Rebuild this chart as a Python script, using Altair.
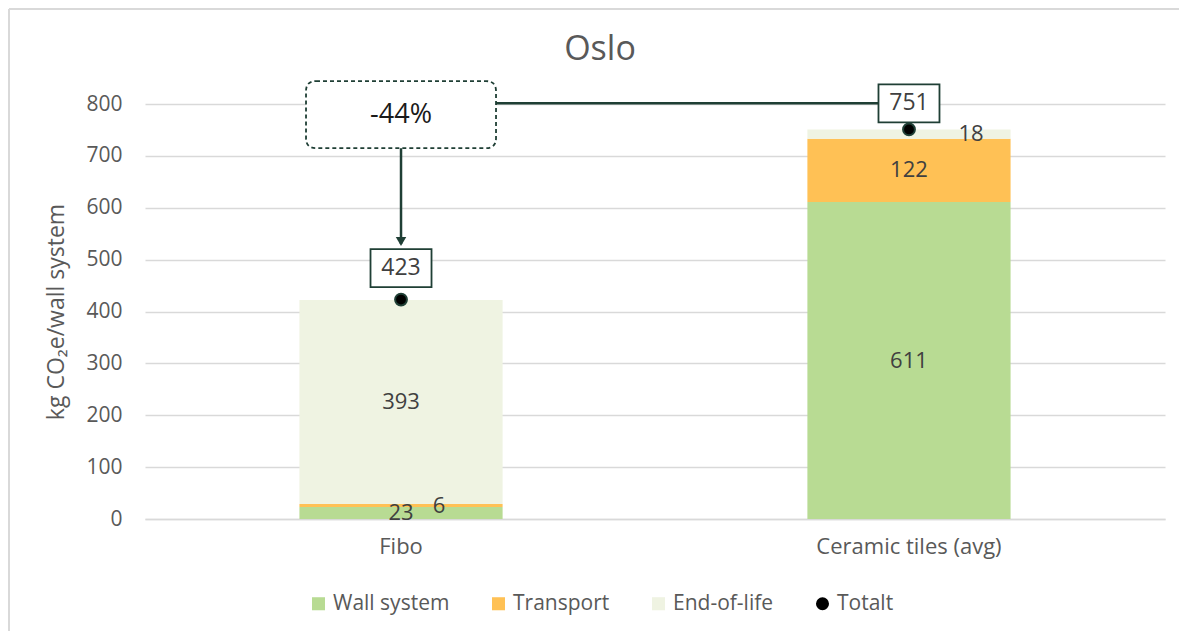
import altair as alt
import pandas as pd

FONT = "Open Sans"
GRAY = "#595959"
DARK = "#1F3F35"

categories = ["Fibo", "Ceramic tiles (avg)"]
components = ["Wall system", "Transport", "End-of-life"]
wall_system = [23, 611]
transport = [6, 122]
end_of_life = [393, 18]
totals = [423, 751]
change_label = "-44%"
legend_items = components + ["Totalt"]
colors = ["#B8DB93", "#FFC155", "#EFF3E2", "#000000"]
shapes = ["square", "square", "square", "circle"]

# annotation levels (data units)
connector_level = 801.5
change_box_level = 779.5
arrow_end_level = 530
arrow_head_level = 535

rows = []
for ci, cat in enumerate(categories):
    for k, (comp, vals) in enumerate(zip(components, [wall_system, transport, end_of_life])):
        rows.append({"category": cat, "series": comp, "value": vals[ci], "order": k})
bars_df = pd.DataFrame(rows)
tot_df = pd.DataFrame({"category": categories, "series": ["Totalt"] * 2,
                       "total": totals, "label": [str(t) for t in totals]})
line_df = pd.DataFrame({"category": categories, "level": [connector_level] * 2})
change_df = pd.DataFrame({"category": [categories[0]], "level": [change_box_level],
                          "label": [change_label]})
arrow_df = pd.DataFrame({"category": [categories[0]], "y1": [change_box_level],
                         "y2": [arrow_end_level], "head": [arrow_head_level]})
frame_df = pd.DataFrame({"a": [0]})

YTITLE = "kg CO\u2082e/wall system"
xscale = alt.Scale(domain=categories, paddingInner=0.6, paddingOuter=0.304)
yscale = alt.Scale(domain=[0, 800], nice=False)
xaxis = alt.Axis(title=None, labelFontSize=22, labelColor=GRAY, labelFont=FONT,
                 labelPadding=17, ticks=False, domainColor="#D9D9D9", domainWidth=1.5,
                 labelAngle=0, labelLimit=500)
yaxis = alt.Axis(title=YTITLE, values=list(range(0, 801, 100)), labelFontSize=21,
                 labelColor=GRAY, labelFont=FONT, labelPadding=23, ticks=False,
                 domain=False, gridColor="#D9D9D9", gridWidth=1.3, titleFontSize=23,
                 titleColor=GRAY, titleFont=FONT, titleFontWeight="normal",
                 titlePadding=17)
cscale = alt.Scale(domain=legend_items, range=colors)
sscale = alt.Scale(domain=legend_items, range=shapes)


def X():
    return alt.X("category:N", scale=xscale, axis=xaxis, sort=categories)


def Y(field, **kw):
    return alt.Y(field, type="quantitative", scale=yscale, axis=yaxis, **kw)


frame_top = alt.Chart(frame_df).mark_rule(color="#D9D9D9", strokeWidth=2).encode(
    x=alt.value(-136), x2=alt.value(1034), y=alt.value(-95))
frame_left = alt.Chart(frame_df).mark_rule(color="#D9D9D9", strokeWidth=2).encode(
    x=alt.value(-136), y=alt.value(-95), y2=alt.value(527))

bars = alt.Chart(bars_df).mark_bar().encode(
    x=X(),
    y=Y("value", stack="zero"),
    color=alt.Color("series:N", scale=cscale, legend=alt.Legend(title=None)),
    order=alt.Order("order:Q", sort="ascending"),
)

text_base = alt.Chart(bars_df).transform_stack(
    stack="value", as_=["v0", "v1"], groupby=["category"],
    sort=[alt.SortField("order", order="ascending")]
).transform_calculate(mid="(datum.v0 + datum.v1) / 2")

txt_props = dict(font=FONT, fontSize=22, color="#404040", baseline="middle", align="center")
seg_main = text_base.transform_filter(
    "!(datum.category == 'Fibo' && datum.series == 'Transport') && "
    "!(datum.category == 'Ceramic tiles (avg)' && datum.series == 'End-of-life')"
).mark_text(**txt_props).encode(x=X(), y=Y("mid"), text="value:Q")
seg_6 = text_base.transform_filter(
    "datum.category == 'Fibo' && datum.series == 'Transport'"
).mark_text(xOffset=38, **txt_props).encode(x=X(), y=Y("mid"), text="value:Q")
seg_18 = text_base.transform_filter(
    "datum.category == 'Ceramic tiles (avg)' && datum.series == 'End-of-life'"
).mark_text(xOffset=62, **txt_props).encode(x=X(), y=Y("mid"), text="value:Q")

connector = alt.Chart(line_df).mark_line(color=DARK, strokeWidth=2.5).encode(
    x=X(), y=Y("level"))

arrow = alt.Chart(arrow_df).mark_rule(color=DARK, strokeWidth=2.5).encode(
    x=X(), y=Y("y1"), y2="y2:Q")
arrow_head = alt.Chart(arrow_df).mark_point(
    shape="triangle-down", filled=True, color=DARK, size=110, opacity=1).encode(
    x=X(), y=Y("head"))

rr = 0.105
hh = 0.3526
change_box_path = (
    f"M{-1+rr},{-hh} L{1-rr},{-hh} Q1,{-hh} 1,{-hh+rr} L1,{hh-rr} Q1,{hh} {1-rr},{hh} "
    f"L{-1+rr},{hh} Q-1,{hh} -1,{hh-rr} L-1,{-hh+rr} Q-1,{-hh} {-1+rr},{-hh} Z"
)
change_box = alt.Chart(change_df).mark_point(
    shape=change_box_path, size=190 * 190, filled=True, fill="white", stroke=DARK,
    strokeWidth=1.8, strokeDash=[4, 3], opacity=1).encode(x=X(), y=Y("level"))
change_text = alt.Chart(change_df).mark_text(
    font=FONT, fontSize=27, color="#1A1A1A", baseline="middle", align="center").encode(
    x=X(), y=Y("level"), text="label:N")

box_path = "M-1,-0.623 L1,-0.623 L1,0.623 L-1,0.623 Z"
dots = alt.Chart(tot_df).mark_point(
    filled=True, size=140, stroke=DARK, strokeWidth=2, opacity=1).encode(
    x=X(), y=Y("total"),
    color=alt.Color("series:N", scale=cscale, legend=alt.Legend(title=None)),
    shape=alt.Shape("series:N", scale=sscale, legend=alt.Legend(title=None)),
)

label_layers = []
for cat, off in zip(categories, [-31.5, -26]):
    sub = alt.Chart(tot_df).transform_filter(alt.datum.category == cat)
    label_layers.append(sub.mark_point(
        shape=box_path, size=61 * 61, filled=True, fill="white", stroke=DARK,
        strokeWidth=1.8, opacity=1, yOffset=off).encode(x=X(), y=Y("total")))
    label_layers.append(sub.mark_text(
        font=FONT, fontSize=23, color="#404040", baseline="middle", align="center",
        yOffset=off).encode(x=X(), y=Y("total"), text="label:N"))

chart = alt.layer(
    frame_top, frame_left, bars, seg_main, seg_6, seg_18, connector, arrow, arrow_head,
    change_box, change_text, dots, *label_layers
).properties(
    width=1020, height=415,
    autosize=alt.AutoSizeParams(type="none"),
    padding={"left": 137, "top": 96, "right": 14, "bottom": 112},
    title=alt.TitleParams("Oslo", fontSize=34, color=GRAY, font=FONT,
                          fontWeight="normal", anchor="middle", frame="group",
                          dx=-55, offset=-58.5),
).configure_view(stroke=None).configure_legend(
    orient="none", legendX=163, legendY=489, direction="horizontal", columns=4,
    labelFont=FONT, labelFontSize=21, labelColor=GRAY, symbolSize=170,
    columnPadding=38, labelOffset=4, symbolStrokeWidth=0,
).configure_axis(labelFont=FONT)

chart.save("out.html", embed_options={"renderer": "svg", "actions": False})
